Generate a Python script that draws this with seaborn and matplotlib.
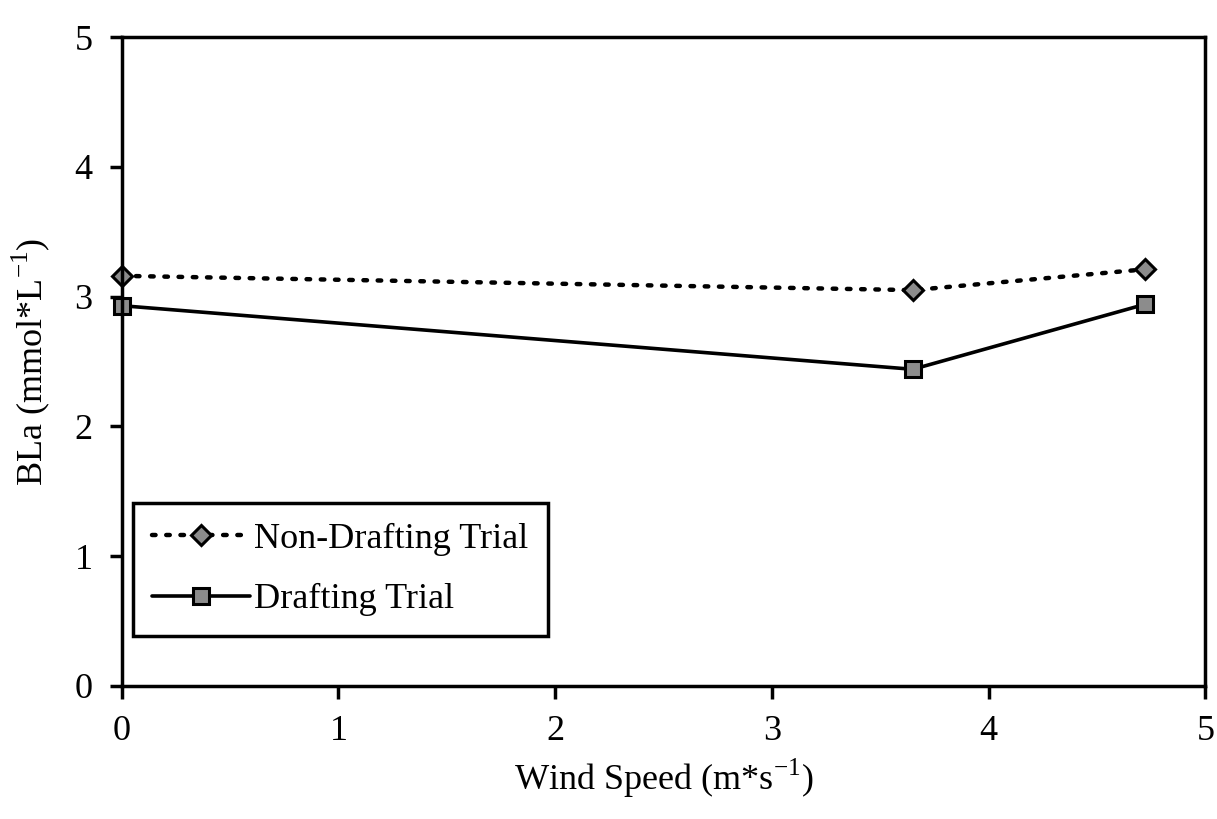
import seaborn as sns
import matplotlib.pyplot as plt
import pandas as pd

# values
wind_speed = [0.0, 3.65, 4.72]
non_drafting = [3.16, 3.05, 3.21]
drafting = [2.93, 2.44, 2.94]

sns.set_style("ticks")
plt.rcParams['font.family'] = ['Liberation Serif', 'DejaVu Serif']
plt.rcParams['text.color'] = 'black'
plt.rcParams['axes.labelcolor'] = 'black'

df = pd.DataFrame({
    "wind": wind_speed * 2,
    "bla": non_drafting + drafting,
    "trial": ["Non-Drafting Trial"] * 3 + ["Drafting Trial"] * 3,
})

fig = plt.figure(figsize=(12.17, 8.19), dpi=100)
ax = fig.add_axes([0.100, 0.1624, 0.8905, 0.7924])

sns.lineplot(data=df[df.trial == "Non-Drafting Trial"], x="wind", y="bla",
             ax=ax, color="black", linestyle=(0, (0.8, 2.4)), linewidth=3.2,
             dash_capstyle="round", solid_capstyle="round",
             marker="D", markersize=10, markerfacecolor="#8c8c8c",
             markeredgecolor="black", markeredgewidth=2.2,
             label="Non-Drafting Trial", clip_on=False)
sns.lineplot(data=df[df.trial == "Drafting Trial"], x="wind", y="bla",
             ax=ax, color="black", linestyle="-", linewidth=2.6,
             marker="s", markersize=12, markerfacecolor="#8c8c8c",
             markeredgecolor="black", markeredgewidth=2.2,
             label="Drafting Trial", clip_on=False)

ax.set_xlim(0, 5)
ax.set_ylim(0, 5)
ax.set_xticks(range(6))
ax.set_yticks(range(6))
for s in ax.spines.values():
    s.set_linewidth(2.5)
    s.set_color("black")
ax.tick_params(labelsize=26, width=2.5, length=9, colors="black", pad=12)
ax.set_xlabel("Wind Speed (m*s$^{\\mathregular{-1}}$)", fontsize=26, labelpad=6)
ax.set_ylabel("BLa (mmol*L$^{\\mathregular{-1}}$)", fontsize=26, labelpad=16)

leg = ax.legend(loc="lower left", bbox_to_anchor=(0.01, 0.077), fontsize=26,
                frameon=True, fancybox=False, edgecolor="black",
                handlelength=2.7, borderpad=0.55, labelspacing=0.75,
                handletextpad=0.1, borderaxespad=0)
leg.get_frame().set_linewidth(2.5)
leg.get_frame().set_alpha(1)

fig.savefig("out.png", dpi=100)
